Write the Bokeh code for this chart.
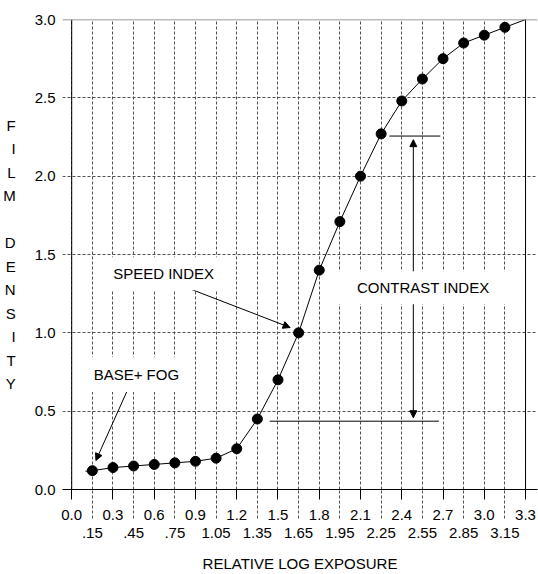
from bokeh.plotting import figure
from bokeh.models import (LinearAxis, FixedTicker, Grid, Span, Label, Arrow,
                          NormalHead)
from bokeh.embed import file_html
from bokeh.resources import INLINE

# ---- data ----
exposure = [0.15, 0.3, 0.45, 0.6, 0.75, 0.9, 1.05, 1.2, 1.35, 1.5, 1.65,
            1.8, 1.95, 2.1, 2.25, 2.4, 2.55, 2.7, 2.85, 3.0, 3.15]
density = [0.12, 0.14, 0.15, 0.16, 0.17, 0.18, 0.20, 0.26, 0.45, 0.70, 1.00,
           1.40, 1.71, 2.00, 2.27, 2.48, 2.62, 2.75, 2.85, 2.90, 2.95]
curve_start = (0.1, 0.117)
curve_end = (3.3, 3.0)

main_ticks = [0.0, 0.3, 0.6, 0.9, 1.2, 1.5, 1.8, 2.1, 2.4, 2.7, 3.0, 3.3]
main_labels = ["0.0", "0.3", "0.6", "0.9", "1.2", "1.5", "1.8", "2.1", "2.4",
               "2.7", "3.0", "3.3"]
odd_ticks = [0.15, 0.45, 0.75, 1.05, 1.35, 1.65, 1.95, 2.25, 2.55, 2.85, 3.15]
odd_labels = [".15", ".45", ".75", "1.05", "1.35", "1.65", "1.95", "2.25",
              "2.55", "2.85", "3.15"]
y_ticks = [0.0, 0.5, 1.0, 1.5, 2.0, 2.5, 3.0]
y_labels = ["0.0", "0.5", "1.0", "1.5", "2.0", "2.5", "3.0"]

# contrast index bracket (x0, x1, y)
bracket_x0 = [2.31, 1.44]
bracket_x1 = [2.68, 2.67]
bracket_y = [2.256, 0.436]

FONT = "Liberation Sans"
FS = "15px"
GRID_COLOR = "#505050"

p = figure(width=538, height=574, x_range=(-0.067, 3.387), y_range=(0, 3.0),
           x_axis_type=None, y_axis_type=None, output_backend="svg",
           toolbar_location=None, min_border_left=59, min_border_right=1,
           min_border_top=19, min_border_bottom=85)
p.outline_line_color = None
p.background_fill_color = "white"
p.border_fill_color = "white"

# ---- axes ----
xa = LinearAxis(ticker=FixedTicker(ticks=main_ticks, minor_ticks=odd_ticks))
xa.major_label_overrides = dict(zip(main_ticks, main_labels))
xa.axis_line_color = "black"
xa.major_tick_out = 10
xa.major_tick_in = 0
xa.major_tick_line_color = "black"
xa.minor_tick_out = 29
xa.minor_tick_in = 0
xa.minor_tick_line_color = GRID_COLOR
xa.minor_tick_line_dash = "3 2"
xa.major_label_standoff = -9
xa.major_label_text_font = FONT
xa.major_label_text_font_size = FS
xa.major_label_text_color = "black"
p.add_layout(xa, "below")

xb = LinearAxis(ticker=FixedTicker(ticks=odd_ticks))
xb.major_label_overrides = dict(zip(odd_ticks, odd_labels))
xb.axis_line_color = None
xb.major_tick_out = 0
xb.major_tick_in = 0
xb.major_tick_line_color = None
xb.minor_tick_line_color = None
xb.major_label_standoff = 5
xb.major_label_text_font = FONT
xb.major_label_text_font_size = FS
xb.major_label_text_color = "black"
xb.axis_label = "RELATIVE LOG EXPOSURE"
xb.axis_label_standoff = 14
xb.axis_label_text_font = FONT
xb.axis_label_text_font_size = FS
xb.axis_label_text_font_style = "normal"
xb.axis_label_text_color = "black"
p.add_layout(xb, "below")

ya = LinearAxis(ticker=FixedTicker(ticks=y_ticks))
ya.major_label_overrides = dict(zip(y_ticks, y_labels))
ya.axis_line_color = None
ya.major_tick_out = 0
ya.major_tick_in = 0
ya.major_tick_line_color = None
ya.minor_tick_line_color = None
ya.major_label_standoff = 7
ya.major_label_text_font = FONT
ya.major_label_text_font_size = FS
ya.major_label_text_color = "black"
ya.axis_label = "F\nI\nL\nM\n\nD\nE\nN\nS\nI\nT\nY"
ya.axis_label_orientation = "horizontal"
ya.axis_label_standoff = 16
ya.axis_label_text_font = FONT
ya.axis_label_text_font_size = FS
ya.axis_label_text_font_style = "normal"
ya.axis_label_text_color = "black"
ya.axis_label_text_line_height = 1.38
p.add_layout(ya, "left")

# ---- grids ----
xgrid = Grid(dimension=0, ticker=FixedTicker(ticks=sorted(main_ticks + odd_ticks)),
             grid_line_color=GRID_COLOR, grid_line_dash="3 2", grid_line_width=1)
ygrid = Grid(dimension=1, ticker=FixedTicker(ticks=y_ticks),
             grid_line_color=GRID_COLOR, grid_line_dash="3 2", grid_line_width=1)
p.add_layout(xgrid)
p.add_layout(ygrid)

# solid frame lines
p.add_layout(Span(location=main_ticks[0], dimension="height", line_color="black", line_width=1))
p.add_layout(Span(location=main_ticks[-1], dimension="height", line_color="black", line_width=1))
p.add_layout(Span(location=y_ticks[-1], dimension="width", line_color="#777777", line_width=1.5))

# ---- curve ----
line_x = [curve_start[0]] + exposure + [curve_end[0]]
line_y = [curve_start[1]] + density + [curve_end[1]]
p.line(line_x, line_y, line_color="black", line_width=1)
p.scatter(exposure, density, size=10, fill_color="black", line_color="black")

# contrast brackets
p.segment(x0=bracket_x0, y0=bracket_y, x1=bracket_x1, y1=bracket_y,
          line_color="black", line_width=1)

# ---- annotations ----
def head():
    return NormalHead(size=7, fill_color="black", line_color="black")

p.add_layout(Arrow(x_start=2.484, y_start=2.233, x_end=2.484, y_end=0.458,
                   start=head(), end=head(), line_color="black", line_width=1))
p.add_layout(Arrow(x_start=0.794, y_start=1.303, x_end=1.588, y_end=1.034,
                   end=head(), line_color="black", line_width=1))
p.add_layout(Arrow(x_start=0.41, y_start=0.643, x_end=0.176, y_end=0.185,
                   end=head(), line_color="black", line_width=1))

def label(x, y, text, pad):
    return Label(x=x, y=y, text=text, text_align="center", text_baseline="middle",
                 text_font=FONT, text_font_size=FS, text_color="black",
                 background_fill_color="white", padding=pad)

p.add_layout(label(2.556, 1.288, "CONTRAST INDEX", (20, 8)))
p.add_layout(label(0.668, 1.377, "SPEED INDEX", (10, 8)))
p.add_layout(label(0.47, 0.734, "BASE+ FOG", (8, 9)))

open("out.html", "w").write(file_html(p, INLINE))
